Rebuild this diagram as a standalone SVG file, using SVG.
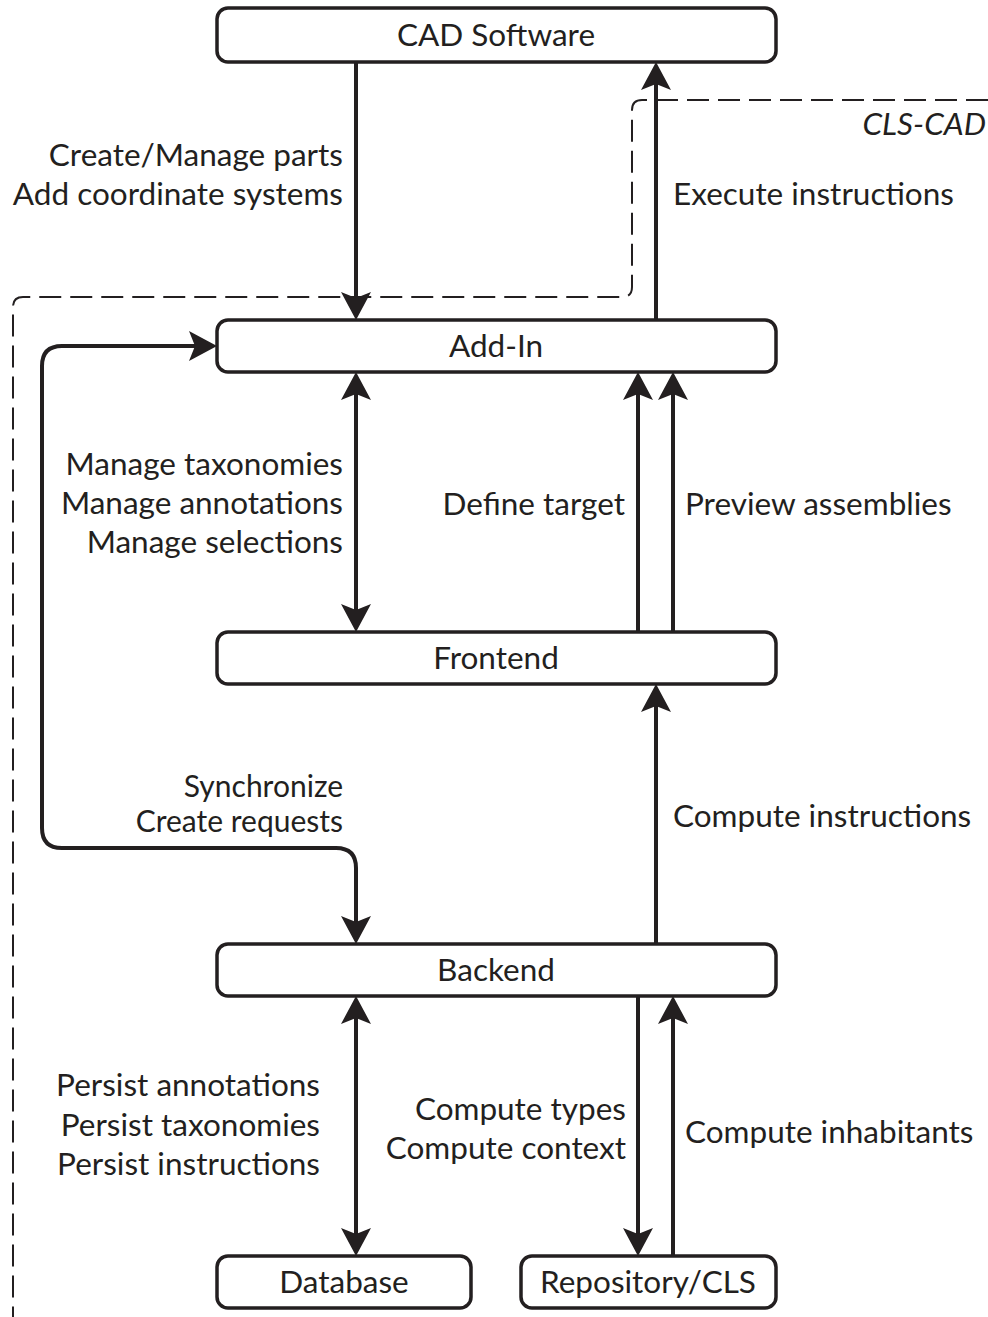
<svg xmlns="http://www.w3.org/2000/svg" width="988" height="1317" viewBox="0 0 988 1317">
<style>
.box{fill:#fff;stroke:#231f20;stroke-width:3.5}
.t{font-family:Lato,"Open Sans","Liberation Sans",sans-serif;font-size:31.5px;fill:#231f20}
.s{font-size:30px}
.c{text-anchor:middle}
.r{text-anchor:end}
.con{fill:none;stroke:#231f20;stroke-width:4}
.dash{fill:none;stroke:#231f20;stroke-width:2;stroke-dasharray:22 9}
</style>
<defs>
<marker id="ah" markerUnits="userSpaceOnUse" viewBox="-30 -17 32 34" refX="-10" refY="0" markerWidth="32" markerHeight="34" orient="auto-start-reverse">
<path d="M0,0 L-28,-15 L-22,0 L-28,15 Z" fill="#231f20"/>
</marker>
</defs>
<g id="boundary">
<path class="dash" d="M988,100 H642 Q632,100 632,110 V287 Q632,297 622,297 H23 Q13,297 13,307 V1317"/>
<text class="t r" x="986" y="135" font-style="italic">CLS-CAD</text>
</g>
<g id="connectors">
<path class="con" d="M356,62 V310" marker-end="url(#ah)"/>
<path class="con" d="M656,320 V72" marker-end="url(#ah)"/>
<path class="con" d="M356,382 V622" marker-start="url(#ah)" marker-end="url(#ah)"/>
<path class="con" d="M638,632 V382" marker-end="url(#ah)"/>
<path class="con" d="M673,632 V382" marker-end="url(#ah)"/>
<path class="con" d="M656,944 V694" marker-end="url(#ah)"/>
<path class="con" d="M207,346 H62 Q42,346 42,366 V828 Q42,848 62,848 H336 Q356,848 356,868 V934" marker-start="url(#ah)" marker-end="url(#ah)"/>
<path class="con" d="M356,1006 V1246" marker-start="url(#ah)" marker-end="url(#ah)"/>
<path class="con" d="M638,996 V1246" marker-end="url(#ah)"/>
<path class="con" d="M673,1256 V1006" marker-end="url(#ah)"/>
<text class="t r" x="343" y="166">Create/Manage parts</text>
<text class="t r" x="343" y="205">Add coordinate systems</text>
<text class="t" x="673" y="205">Execute instructions</text>
<text class="t r" x="343" y="475">Manage taxonomies</text>
<text class="t r" x="343" y="514">Manage annotations</text>
<text class="t r" x="343" y="553">Manage selections</text>
<text class="t r" x="625" y="515">Define target</text>
<text class="t" x="685" y="515">Preview assemblies</text>
<text class="t s r" x="343" y="797">Synchronize</text>
<text class="t s r" x="343" y="832">Create requests</text>
<text class="t" x="673" y="827">Compute instructions</text>
<text class="t r" x="320" y="1096">Persist annotations</text>
<text class="t r" x="320" y="1136">Persist taxonomies</text>
<text class="t r" x="320" y="1175">Persist instructions</text>
<text class="t r" x="626" y="1120">Compute types</text>
<text class="t r" x="626" y="1159">Compute context</text>
<text class="t" x="685" y="1143">Compute inhabitants</text>
</g>
<g id="cad"><rect class="box" x="217" y="8" width="559" height="54" rx="11"/><text class="t c" x="496" y="46">CAD Software</text></g>
<g id="addin"><rect class="box" x="217" y="320" width="559" height="52" rx="11"/><text class="t c" x="496" y="357">Add-In</text></g>
<g id="frontend"><rect class="box" x="217" y="632" width="559" height="52" rx="11"/><text class="t c" x="496" y="669">Frontend</text></g>
<g id="backend"><rect class="box" x="217" y="944" width="559" height="52" rx="11"/><text class="t c" x="496" y="981">Backend</text></g>
<g id="database"><rect class="box" x="217" y="1256" width="254" height="52" rx="11"/><text class="t c" x="344" y="1293">Database</text></g>
<g id="repository"><rect class="box" x="521" y="1256" width="255" height="52" rx="11"/><text class="t c" x="648" y="1293">Repository/CLS</text></g>
</svg>
